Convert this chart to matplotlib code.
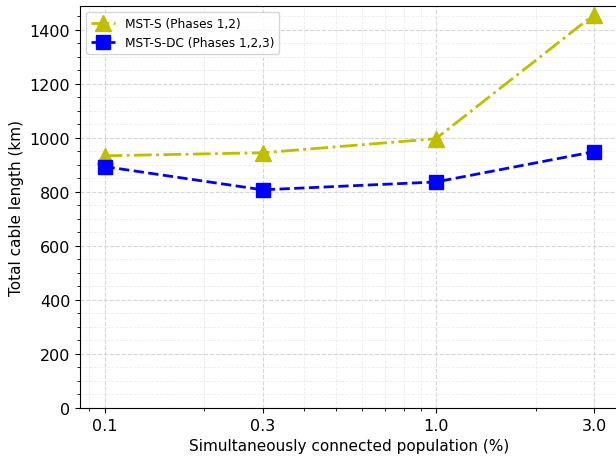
import matplotlib
matplotlib.use('Agg')
import matplotlib.pyplot as plt
from matplotlib.ticker import AutoMinorLocator

# Simultaneously connected population (%)
population = [0.1, 0.3, 1.0, 3.0]
xticklabels = ["0.1", "0.3", "1.0", "3.0"]
# Total cable length (km)
mst_s = [933, 944, 996, 1455]
mst_s_dc = [893, 807, 836, 948]

fig = plt.figure(figsize=(6.16, 4.6), dpi=100)
ax = fig.add_axes([0.13, 0.111, 0.874, 0.874])

ax.plot(population, mst_s, color='y', linestyle='-.', linewidth=2,
        marker='^', markersize=11, label="MST-S (Phases 1,2)")
ax.plot(population, mst_s_dc, color='b', linestyle='--', linewidth=2,
        marker='s', markersize=10, label="MST-S-DC (Phases 1,2,3)")

ax.set_xscale('log')
ax.set_xticks(population)
ax.set_xticklabels(xticklabels)
ax.set_ylim(bottom=0)
ax.yaxis.set_minor_locator(AutoMinorLocator())

# light dashed grid on major and minor ticks
ax.grid(True, which='major', linestyle='--', color='#d6d6d6', linewidth=0.8)
ax.grid(True, which='minor', linestyle='--', color='#ededed', linewidth=0.6)

ax.tick_params(labelsize=11.5)
ax.set_xlabel("Simultaneously connected population (%)", fontsize=11)
ax.set_ylabel("Total cable length (km)", fontsize=11)
ax.legend(loc='upper left', fontsize=8.7)

plt.savefig("out.png", dpi=100)
